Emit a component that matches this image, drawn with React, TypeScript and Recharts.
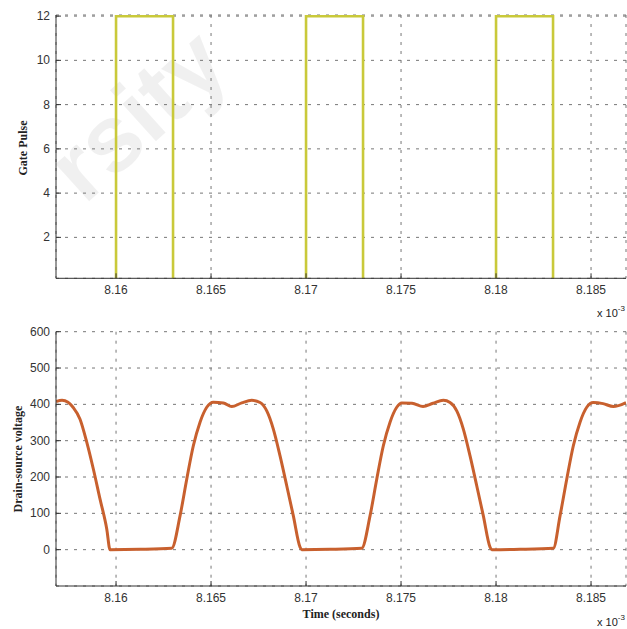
import React from "react";
import { LineChart, Line, XAxis, YAxis, CartesianGrid } from "recharts";

// Time axis in units of 1e-3 s
const xTicks = [8.16, 8.165, 8.17, 8.175, 8.18, 8.185];
const xDomain: [number, number] = [8.15684, 8.18684];

// Gate pulse (top panel)
const gateTicks = [2, 4, 6, 8, 10, 12];
const gateTime = [8.15684, 8.16, 8.16, 8.163, 8.163, 8.17, 8.17, 8.173, 8.173, 8.18, 8.18, 8.183, 8.183, 8.18684];
const gateLevel = [0, 0, 12, 12, 0, 0, 12, 12, 0, 0, 12, 12, 0, 0];

// Drain-source voltage (bottom panel)
const vdsTicks = [0, 100, 200, 300, 400, 500, 600];
const vdsTime = [
  8.156842, 8.157158, 8.157474, 8.157737, 8.158105, 8.158458, 8.158805, 8.159158, 8.159511, 8.159684,
  8.161263, 8.162932,
  8.163368, 8.163721, 8.164068, 8.164421, 8.164774, 8.165121, 8.165647, 8.166089, 8.166616, 8.167142,
  8.167579, 8.167932, 8.168279, 8.168632, 8.168984, 8.169332, 8.169684, 8.169774,
  8.171263, 8.172932,
  8.173368, 8.173721, 8.174068, 8.174421, 8.174774, 8.175037, 8.175579, 8.176158, 8.176684, 8.177226,
  8.177579, 8.177932, 8.178279, 8.178632, 8.178984, 8.179332, 8.179684, 8.179774,
  8.181263, 8.183016,
  8.183368, 8.183721, 8.184068, 8.184421, 8.184774, 8.185121, 8.185632, 8.186174, 8.186842,
];
const vdsValue = [
  408, 411, 406, 392, 359, 296, 222, 139, 57, 0,
  1, 4,
  93, 194, 286, 351, 392, 406, 404, 394, 404, 411,
  405, 382, 332, 258, 176, 93, 7, 0,
  1, 4,
  93, 194, 286, 351, 392, 404, 403, 394, 403, 411,
  405, 382, 332, 258, 176, 93, 7, 0,
  1, 4,
  93, 194, 286, 351, 392, 405, 402, 394, 405,
];

const gateData = gateTime.map((t, i) => ({ t, v: gateLevel[i] }));
const vdsData = vdsTime.map((t, i) => ({ t, v: vdsValue[i] }));

const SANS = "'Liberation Sans', Arial, sans-serif";
const SERIF = "'Liberation Serif', 'Times New Roman', serif";
const AX = "#333";

const XTickBottom = ({ x, y, payload }: any) => (
  <g>
    <line x1={x} x2={x} y1={y} y2={y - 5} stroke={AX} strokeWidth={1} />
    <text x={x} y={y + 16} textAnchor="middle" fontFamily={SANS} fontSize={12} fill="#333">
      {String(payload.value)}
    </text>
  </g>
);
const XTickTop = ({ x, y }: any) => (
  <line x1={x} x2={x} y1={y} y2={y + 5} stroke={AX} strokeWidth={1} />
);
const YTickLeft = ({ x, y, payload }: any) => (
  <g>
    <line x1={x} x2={x + 5} y1={y} y2={y} stroke={AX} strokeWidth={1} />
    <text x={x - 6} y={y + 4} textAnchor="end" fontFamily={SANS} fontSize={12} fill="#333">
      {String(payload.value)}
    </text>
  </g>
);
const YTickRight = ({ x, y }: any) => (
  <line x1={x} x2={x - 5} y1={y} y2={y} stroke={AX} strokeWidth={1} />
);

function Panel({
  data,
  yDomain,
  yTicks,
  color,
  width,
  marginTop,
  height,
  xAxisHeight,
  type,
  topColor,
}: any) {
  return (
    <LineChart
      width={627}
      height={height}
      data={data}
      margin={{ top: marginTop, right: 1, bottom: 0, left: 0 }}
    >
      <CartesianGrid stroke="#777" strokeDasharray="3 6" strokeWidth={1} />
      <XAxis
        dataKey="t"
        type="number"
        domain={xDomain}
        allowDataOverflow
        ticks={xTicks}
        height={xAxisHeight}
        tickSize={0}
        tickMargin={0}
        tick={<XTickBottom />}
        axisLine={{ stroke: AX }}
        tickLine={false}
        interval={0}
      />
      <XAxis
        xAxisId="top"
        orientation="top"
        type="number"
        dataKey="t"
        domain={xDomain}
        allowDataOverflow
        ticks={xTicks}
        height={0}
        tickSize={0}
        tickMargin={0}
        tick={<XTickTop />}
        axisLine={{ stroke: topColor }}
        tickLine={false}
        interval={0}
      />
      <YAxis
        type="number"
        domain={yDomain}
        allowDataOverflow
        ticks={yTicks}
        width={56}
        tickSize={0}
        tickMargin={0}
        tick={<YTickLeft />}
        axisLine={{ stroke: AX }}
        tickLine={false}
        interval={0}
      />
      <YAxis
        yAxisId="right"
        orientation="right"
        type="number"
        domain={yDomain}
        allowDataOverflow
        ticks={yTicks}
        width={0}
        tickSize={0}
        tickMargin={0}
        tick={<YTickRight />}
        axisLine={{ stroke: "#555" }}
        tickLine={false}
        interval={0}
      />
      <Line
        dataKey="v"
        type={type}
        stroke={color}
        strokeWidth={width}
        dot={false}
        activeDot={false}
        isAnimationActive={false}
      />
    </LineChart>
  );
}

export default function App() {
  return (
    <div
      style={{
        position: "absolute",
        left: 0,
        top: 0,
        width: 627,
        height: 629,
        background: "#fff",
        overflow: "hidden",
      }}
    >
      <svg
        width={627}
        height={629}
        style={{ position: "absolute", left: 0, top: 0 }}
      >
        <text
          x={0}
          y={0}
          transform="translate(142,120) rotate(-42)"
          textAnchor="middle"
          dominantBaseline="middle"
          fontFamily={SANS}
          fontWeight="bold"
          fontSize={95}
          fill="#000"
          fillOpacity={0.06}
        >
          rsity
        </text>
      </svg>
      <div style={{ position: "absolute", left: 0, top: 0 }}>
        <Panel
          data={gateData}
          yDomain={[0.15, 12.05]}
          yTicks={gateTicks}
          color="#c9c93a"
          width={2.6}
          marginTop={15}
          height={330}
          xAxisHeight={51.7}
          type="linear"
          topColor="#aaa"
        />
      </div>
      <div style={{ position: "absolute", left: 0, top: 300 }}>
        <Panel
          data={vdsData}
          yDomain={[-100, 600]}
          yTicks={vdsTicks}
          color="#c8602e"
          width={3}
          marginTop={31.7}
          height={330}
          xAxisHeight={44}
          type="monotone"
          topColor="#444"
        />
      </div>
      <svg
        width={627}
        height={629}
        style={{ position: "absolute", left: 0, top: 0, pointerEvents: "none" }}
      >
        <text
          transform="translate(27,148) rotate(-90)"
          textAnchor="middle"
          fontFamily={SERIF}
          fontWeight="bold"
          fontSize={12}
          fill="#222"
        >
          Gate Pulse
        </text>
        <text
          transform="translate(22,459) rotate(-90)"
          textAnchor="middle"
          fontFamily={SERIF}
          fontWeight="bold"
          fontSize={12}
          fill="#222"
        >
          Drain-source voltage
        </text>
        <text
          x={341}
          y={618}
          textAnchor="middle"
          fontFamily={SERIF}
          fontWeight="bold"
          fontSize={12}
          fill="#222"
        >
          Time (seconds)
        </text>
        <text x={597} y={317} fontFamily={SANS} fontSize={11} fill="#222">
          x 10
          <tspan dy={-6} fontSize={8}>
            -3
          </tspan>
        </text>
        <text x={597} y={626} fontFamily={SANS} fontSize={11} fill="#222">
          x 10
          <tspan dy={-6} fontSize={8}>
            -3
          </tspan>
        </text>
      </svg>
    </div>
  );
}
